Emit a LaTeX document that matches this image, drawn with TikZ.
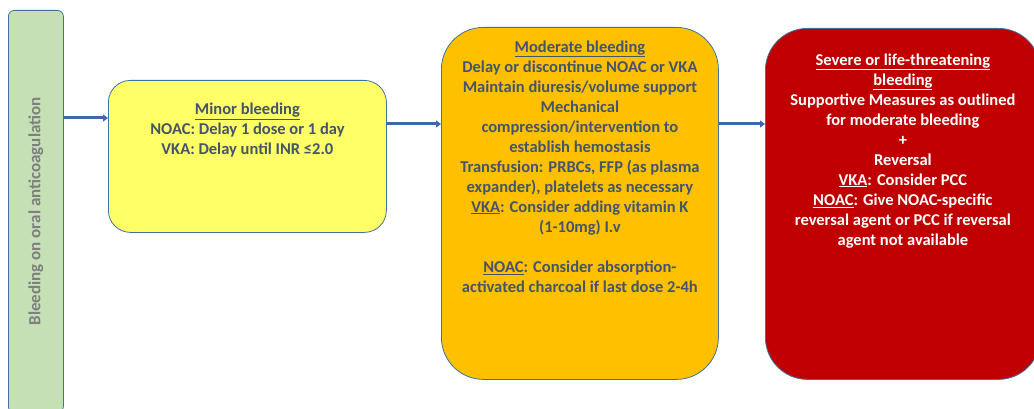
\documentclass[tikz,border=0pt]{standalone}
\usepackage{fontspec}
\setmainfont{Carlito}
\usepackage{xcolor}
\usetikzlibrary{arrows.meta,positioning}
\definecolor{startgreen}{HTML}{C5E0B4}
\definecolor{minoryellow}{HTML}{FFFF66}
\definecolor{modorange}{HTML}{FFC000}
\definecolor{severered}{HTML}{C00000}
\definecolor{boxline}{HTML}{41719C}
\definecolor{flowblue}{HTML}{3F67AE}
\definecolor{textslate}{HTML}{44546A}
\definecolor{textgray}{HTML}{7F7F7F}

\begin{document}
\begin{tikzpicture}[
        x=1pt, y=-1pt,
        font=\bfseries\fontsize{16.5}{20}\selectfont,
        stage/.style={rectangle, draw=boxline, line width=0.8pt, inner sep=0pt, anchor=north west},
        body/.style={align=center, inner sep=0pt, anchor=north},
        flow/.style={draw=flowblue, line width=3pt, -{Triangle[length=5pt,width=7pt]}}
    ]
        \useasboundingbox (0,0) rectangle (1034,409);

        % boxes
        \node[stage, fill=startgreen, rounded corners=6pt, minimum width=55pt, minimum height=402pt] (start) at (8,10) {};
        \node[stage, fill=minoryellow, rounded corners=22pt, minimum width=278pt, minimum height=152pt] (minor) at (108,80) {};
        \node[stage, fill=modorange, rounded corners=42pt, minimum width=277pt, minimum height=352pt] (moderate) at (441,27) {};
        \node[stage, fill=severered, rounded corners=42pt, minimum width=275pt, minimum height=351pt] (severe) at (765,28) {};

        % texts
        \node[text=textgray, rotate=90, font=\bfseries\fontsize{17}{20}\selectfont] (starttxt) at (start.center) {Bleeding on oral anticoagulation};
        \node[body, text=textslate] (minortxt) at ([yshift=-23pt]minor.north) {%
            \underline{Minor bleeding}\\
            NOAC: Delay 1 dose or 1 day\\
            VKA: Delay until INR ≤2.0};
        \node[body, text=textslate] (moderatetxt) at ([yshift=-13.5pt]moderate.north) {%
            \underline{Moderate bleeding}\\
            Delay or discontinue NOAC or VKA\\
            Maintain diuresis/volume support\\
            Mechanical\\
            compression/intervention to\\
            establish hemostasis\\
            Transfusion: PRBCs, FFP (as plasma\\
            expander), platelets as necessary\\
            \underline{VKA}: Consider adding vitamin K\\
            (1-10mg) I.v\\[20pt]
            \underline{NOAC}: Consider absorption-\\
            activated charcoal if last dose 2-4h};
        \node[body, text=white] (severetxt) at ([yshift=-25.5pt]severe.north) {%
            \underline{Severe or life-threatening}\\
            \underline{bleeding}\\
            Supportive Measures as outlined\\
            for moderate bleeding\\
            +\\
            Reversal\\
            \underline{VKA}: Consider PCC\\
            \underline{NOAC}: Give NOAC-specific\\
            reversal agent or PCC if reversal\\
            agent not available};

        % connectors
        \coordinate (lvl1) at (0,118);
        \coordinate (lvl2) at (0,124);
        \draw[flow] (start.east |- lvl1) -- (minor.west |- lvl1);
        \draw[flow] (minor.east |- lvl2) -- (moderate.west |- lvl2);
        \draw[flow] (moderate.east |- lvl2) -- (severe.west |- lvl2);
    \end{tikzpicture}
\end{document}
